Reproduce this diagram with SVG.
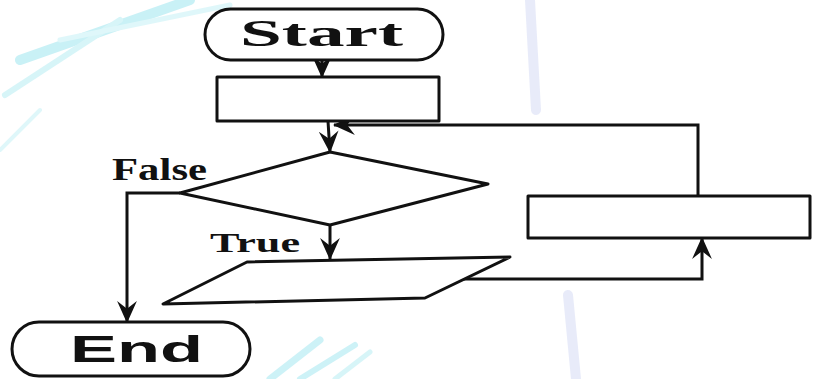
<svg xmlns="http://www.w3.org/2000/svg" width="818" height="379" viewBox="0 0 818 379">
<defs>
<style>
.shape{fill:#fff;stroke:#111;stroke-width:3;stroke-linejoin:round}
.conn{fill:none;stroke:#111;stroke-width:3;stroke-linejoin:miter}
.lbl{font-family:"Liberation Serif","Times New Roman",serif;font-weight:bold;fill:#111}
.term{font-family:"Liberation Serif","Times New Roman",serif;font-weight:bold;fill:#111}
.bg{fill:none;stroke-linecap:round}
</style>
<marker id="ah" viewBox="0 0 20 20" markerWidth="22" markerHeight="22" refX="19" refY="10" orient="auto" markerUnits="userSpaceOnUse">
<path d="M0,1 L20,10 L0,19 L7,10 z" fill="#111"/>
</marker>
</defs>
<rect width="818" height="379" fill="#fff"/>
<g id="background" opacity="0.55">
<path class="bg" d="M20,60 L190,0" stroke="#9ee6f0" stroke-width="10"/>
<path class="bg" d="M5,95 L120,20" stroke="#b8eef4" stroke-width="6"/>
<path class="bg" d="M60,40 L230,5" stroke="#c6f2f6" stroke-width="5"/>
<path class="bg" d="M0,150 L40,110" stroke="#c6f2f6" stroke-width="4"/>
<path class="bg" d="M530,0 L536,110" stroke="#d6daf4" stroke-width="10"/>
<path class="bg" d="M568,295 L576,379" stroke="#d6daf4" stroke-width="10"/>
<path class="bg" d="M270,379 L320,340" stroke="#a6e8f2" stroke-width="7"/>
<path class="bg" d="M300,379 L355,345" stroke="#a6e8f2" stroke-width="6"/>
<path class="bg" d="M335,379 L370,352" stroke="#b8eef4" stroke-width="5"/>
</g>
<g id="connectors">
<path class="conn" d="M322,60 V77" marker-end="url(#ah)"/>
<path class="conn" d="M328,121 L330,152" marker-end="url(#ah)"/>
<path class="conn" d="M698,196 V125 H334" marker-end="url(#ah)"/>
<path class="conn" d="M180,193 H127 V322" marker-end="url(#ah)"/>
<path class="conn" d="M330,225 V259" marker-end="url(#ah)"/>
<path class="conn" d="M464,279 H702 V238" marker-end="url(#ah)"/>
</g>
<g id="start">
<rect class="shape" x="205" y="9" width="238" height="51" rx="25.5"/>
<text class="term" x="240" y="46" font-size="38" textLength="163" lengthAdjust="spacingAndGlyphs">Start</text>
</g>
<g id="process1">
<rect class="shape" x="217" y="77" width="222" height="44"/>
</g>
<g id="decision">
<polygon class="shape" points="330,152 488,184 330,225 180,193"/>
</g>
<g id="label-false">
<text class="lbl" x="112" y="180" font-size="31" textLength="95" lengthAdjust="spacingAndGlyphs">False</text>
</g>
<g id="label-true">
<text class="lbl" x="210" y="252" font-size="28" textLength="90" lengthAdjust="spacingAndGlyphs">True</text>
</g>
<g id="io">
<polygon class="shape" points="247,262 510,257 425,298 163,304"/>
</g>
<g id="process2">
<rect class="shape" x="528" y="196" width="282" height="42"/>
</g>
<g id="end">
<rect class="shape" x="12" y="322" width="238" height="54" rx="27"/>
<text x="70" y="362" font-family="'Liberation Sans',Arial,sans-serif" font-weight="bold" font-size="36" fill="#111" textLength="133" lengthAdjust="spacingAndGlyphs">End</text>
</g>
</svg>
